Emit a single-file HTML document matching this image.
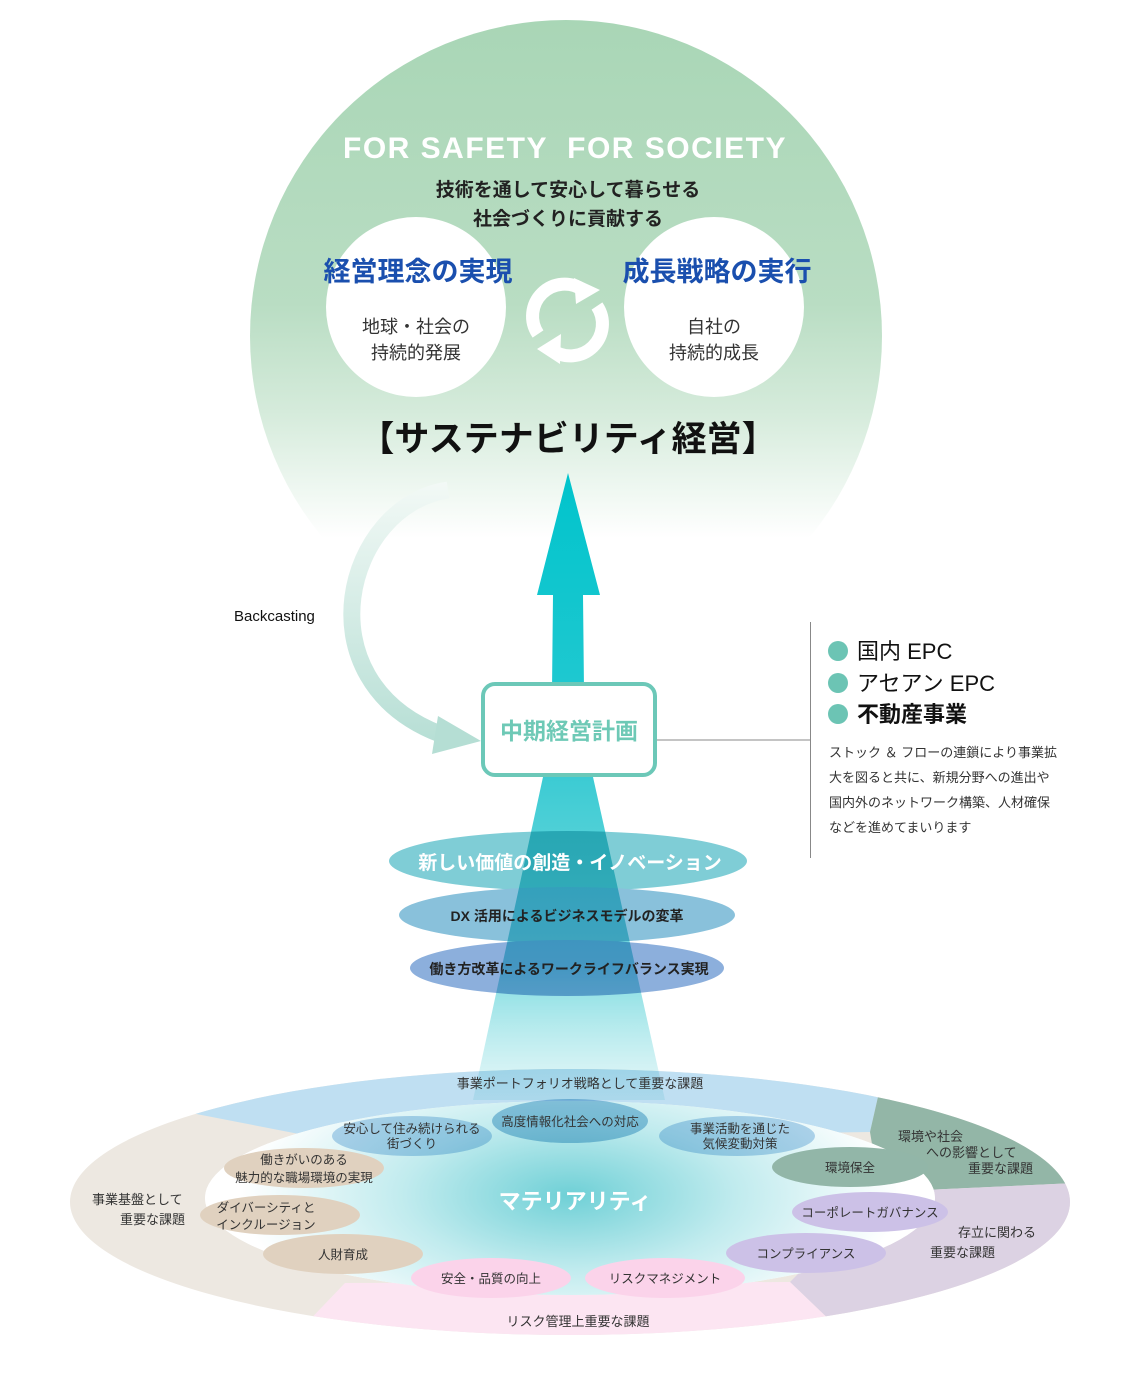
<!DOCTYPE html>
<html><head><meta charset="utf-8"><style>
html,body{margin:0;padding:0;background:#fff;}
svg{display:block;}
text{font-family:"Liberation Sans","Noto Sans CJK JP",sans-serif;}
</style></head><body>
<svg width="1141" height="1397" viewBox="0 0 1141 1397" xmlns="http://www.w3.org/2000/svg">
<defs>
<linearGradient id="bigg" x1="0" y1="0" x2="0" y2="1" gradientUnits="objectBoundingBox">
<stop offset="0" stop-color="#a9d6b6"/><stop offset="0.45" stop-color="#b9ddc3"/><stop offset="0.62" stop-color="#d5ebdb"/><stop offset="0.82" stop-color="#ffffff"/><stop offset="1" stop-color="#ffffff"/>
</linearGradient>
<linearGradient id="arcg" x1="0" y1="480" x2="0" y2="750" gradientUnits="userSpaceOnUse">
<stop offset="0" stop-color="#f3f9f6"/><stop offset="1" stop-color="#b5ded4"/>
</linearGradient>
<linearGradient id="arrg" x1="0" y1="470" x2="0" y2="690" gradientUnits="userSpaceOnUse">
<stop offset="0" stop-color="#00c4cc"/><stop offset="1" stop-color="#1fc8d0"/>
</linearGradient>
<linearGradient id="beamg" x1="0" y1="777" x2="0" y2="1120" gradientUnits="userSpaceOnUse">
<stop offset="0" stop-color="#3ccbd3"/><stop offset="0.55" stop-color="#7bdbe0"/><stop offset="1" stop-color="#c7eef0" stop-opacity="0.3"/>
</linearGradient>
<radialGradient id="glow" cx="570" cy="1195" r="330" gradientUnits="userSpaceOnUse" gradientTransform="translate(570 1195) scale(1 0.45) translate(-570 -1195)">
<stop offset="0" stop-color="#6fd0d6"/><stop offset="0.5" stop-color="#c0ebee"/><stop offset="1" stop-color="#ffffff"/>
</radialGradient>
<clipPath id="ring"><path clip-rule="evenodd" d="M70 1202 a500 133 0 1 0 1000 0 a500 133 0 1 0 -1000 0 Z M205 1198 a365 97 0 1 1 730 0 a365 97 0 1 1 -730 0 Z"/></clipPath>
</defs>

<ellipse cx="566" cy="336" rx="316" ry="316" fill="url(#bigg)"/>
<circle cx="416" cy="307" r="90" fill="#fff"/>
<circle cx="714" cy="307" r="90" fill="#fff"/>
<text x="565" y="158" text-anchor="middle" font-size="30" font-weight="bold" fill="#fff" letter-spacing="1.5" xml:space="preserve">FOR SAFETY  FOR SOCIETY</text>
<text x="568" y="196" text-anchor="middle" font-size="19" font-weight="bold" fill="#222">技術を通して安心して暮らせる</text>
<text x="568" y="225" text-anchor="middle" font-size="19" font-weight="bold" fill="#222">社会づくりに貢献する</text>
<text x="418" y="281" text-anchor="middle" font-size="27" font-weight="bold" fill="#1a4fae">経営理念の実現</text>
<text x="717" y="281" text-anchor="middle" font-size="27" font-weight="bold" fill="#1a4fae">成長戦略の実行</text>
<text x="416" y="333" text-anchor="middle" font-size="18" fill="#333">地球・社会の</text>
<text x="416" y="359" text-anchor="middle" font-size="18" fill="#333">持続的発展</text>
<text x="714" y="333" text-anchor="middle" font-size="18" fill="#333">自社の</text>
<text x="714" y="359" text-anchor="middle" font-size="18" fill="#333">持続的成長</text>
<g fill="none" stroke="#fff" stroke-width="13">
<path d="M538 334 A32 32 0 0 1 583 290"/>
<path d="M597 306 A32 32 0 0 1 552 350"/>
</g>
<polygon points="574,278 600,290 576,304" fill="#fff"/>
<polygon points="561,334 537,349 560,364" fill="#fff"/>
<text x="568" y="451" text-anchor="middle" font-size="35" font-weight="bold" fill="#111">【サステナビリティ経営】</text>

<path d="M448 490 C345 505 300 680 440 734" fill="none" stroke="url(#arcg)" stroke-width="17"/>
<polygon points="438,716 481,741 432,754" fill="#b5ded4"/>
<text x="234" y="621" font-size="15" fill="#111">Backcasting</text>

<polygon points="568,473 600,595 583,595 584,690 552,690 553,595 537,595" fill="url(#arrg)"/>

<g clip-path="url(#ring)">
<rect x="0" y="1000" width="1141" height="397" fill="#ede8e1"/>
<polygon points="330,1140 150,1105 150,1000 900,1000 870,1132" fill="#bfdff2"/>
<polygon points="870,1132 900,1000 1141,1000 1141,1180 880,1192" fill="#93b6a7"/>
<polygon points="880,1192 1141,1180 1141,1397 840,1330 790,1282" fill="#dcd2e3"/>
<polygon points="345,1283 300,1330 300,1397 850,1397 840,1330 790,1282" fill="#fce5f2"/>
</g>
<ellipse cx="570" cy="1198" rx="365" ry="97" fill="url(#glow)"/>

<g style="mix-blend-mode:multiply">
<polygon points="543,777 593,777 665,1100 473,1100" fill="url(#beamg)"/>
</g>

<g style="mix-blend-mode:multiply">
<ellipse cx="568" cy="861" rx="179" ry="30" fill="#7fcdd6"/>
<ellipse cx="567" cy="915" rx="168" ry="28" fill="#89c1db"/>
<ellipse cx="567" cy="968" rx="157" ry="28" fill="#8cafdc"/>
</g>
<text x="570" y="869" text-anchor="middle" font-size="19" font-weight="bold" fill="#fff">新しい価値の創造・イノベーション</text>
<text x="567" y="921" text-anchor="middle" font-size="14" font-weight="bold" fill="#222">DX 活用によるビジネスモデルの変革</text>
<text x="569" y="974" text-anchor="middle" font-size="14" font-weight="bold" fill="#222">働き方改革によるワークライフバランス実現</text>

<rect x="483" y="684" width="172" height="91" rx="12" fill="#fff" stroke="#6cc8b8" stroke-width="4"/>
<text x="569" y="739" text-anchor="middle" font-size="23" font-weight="bold" fill="#6ec9b6">中期経営計画</text>

<line x1="657" y1="740" x2="810" y2="740" stroke="#888" stroke-width="1"/>
<line x1="810.5" y1="622" x2="810.5" y2="858" stroke="#888" stroke-width="1"/>
<circle cx="838" cy="651" r="10" fill="#6cc4b4"/>
<circle cx="838" cy="683" r="10" fill="#6cc4b4"/>
<circle cx="838" cy="714" r="10" fill="#6cc4b4"/>
<text x="857" y="659" font-size="22" fill="#111">国内 EPC</text>
<text x="857" y="691" font-size="22" fill="#111">アセアン EPC</text>
<text x="857" y="722" font-size="22" font-weight="bold" fill="#111">不動産事業</text>
<text font-size="13" fill="#333">
<tspan x="829" y="757">ストック ＆ フローの連鎖により事業拡</tspan>
<tspan x="829" y="782">大を図ると共に、新規分野への進出や</tspan>
<tspan x="829" y="807">国内外のネットワーク構築、人材確保</tspan>
<tspan x="829" y="832">などを進めてまいります</tspan>
</text>

<g font-size="13" fill="#333">
<text x="580" y="1088" text-anchor="middle">事業ポートフォリオ戦略として重要な課題</text>
<text x="578" y="1326" text-anchor="middle">リスク管理上重要な課題</text>
<text x="92" y="1204">事業基盤として</text>
<text x="120" y="1224">重要な課題</text>
<text x="898" y="1141">環境や社会</text>
<text x="926" y="1157">への影響として</text>
<text x="968" y="1173">重要な課題</text>
<text x="958" y="1237">存立に関わる</text>
<text x="930" y="1257">重要な課題</text>
</g>

<g style="mix-blend-mode:multiply">
<ellipse cx="570" cy="1121" rx="78" ry="22" fill="#9ccae3"/>
<ellipse cx="412" cy="1136" rx="80" ry="20" fill="#b8d6ee"/>
<ellipse cx="737" cy="1136" rx="78" ry="20" fill="#b8d6ee"/>
</g>
<ellipse cx="304" cy="1168" rx="80" ry="20" fill="#e0d1bf"/>
<ellipse cx="280" cy="1215" rx="80" ry="20" fill="#e0d1bf"/>
<ellipse cx="343" cy="1254" rx="80" ry="20" fill="#e0d1bf"/>
<ellipse cx="491" cy="1278" rx="80" ry="20" fill="#fbd3ea"/>
<ellipse cx="665" cy="1278" rx="80" ry="20" fill="#fbd3ea"/>
<ellipse cx="806" cy="1253" rx="80" ry="20" fill="#ccc1e7"/>
<ellipse cx="870" cy="1212" rx="78" ry="20" fill="#ccc1e7"/>
<ellipse cx="850" cy="1167" rx="78" ry="20" fill="#92b6a8"/>
<g font-size="12.5" fill="#333" text-anchor="middle">
<text x="570" y="1126">高度情報化社会への対応</text>
<text x="412" y="1133">安心して住み続けられる</text>
<text x="412" y="1148">街づくり</text>
<text x="740" y="1133">事業活動を通じた</text>
<text x="740" y="1148">気候変動対策</text>
<text x="304" y="1164">働きがいのある</text>
<text x="304" y="1182">魅力的な職場環境の実現</text>
<text x="266" y="1212">ダイバーシティと</text>
<text x="266" y="1229">インクルージョン</text>
<text x="343" y="1259">人財育成</text>
<text x="491" y="1283">安全・品質の向上</text>
<text x="665" y="1283">リスクマネジメント</text>
<text x="806" y="1258">コンプライアンス</text>
<text x="870" y="1217">コーポレートガバナンス</text>
<text x="850" y="1172">環境保全</text>
</g>
<text x="575" y="1209" text-anchor="middle" font-size="22" font-weight="bold" fill="#fff">マテリアリティ</text>
</svg>
</body></html>
